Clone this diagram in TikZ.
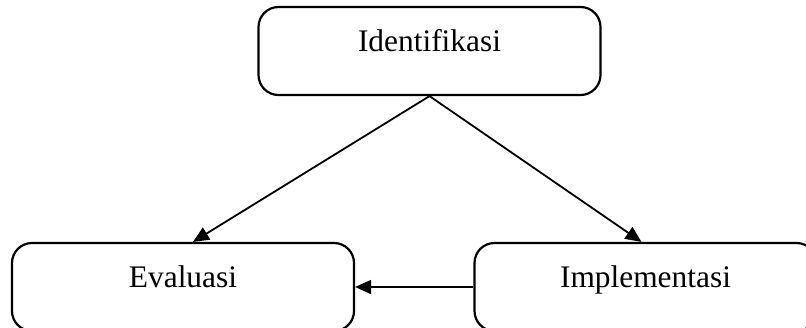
\documentclass[tikz,border=0pt]{standalone}
\usepackage{fontspec}
\setmainfont{Liberation Serif}
\usetikzlibrary{positioning, arrows.meta, calc}

\tikzset{phase/.style={draw, rectangle, rounded corners=10pt, line width=1.1pt,
		minimum width=171pt, minimum height=44pt, text height=1.5ex, text depth=1.5ex,
		font=\fontsize{15.7}{18}\selectfont},
	link/.style={-{Triangle[length=8pt,width=7pt]}, line width=0.9pt}}

\begin{document}
\begin{tikzpicture}[x=0.5pt, y=-0.5pt]
	\useasboundingbox (0,0) rectangle (806,327);
	\clip (0,0) rectangle (806,327);
	
	%Identification block
	\node (identifikasi) at (429.5,51) [phase] {Identifikasi};
	
	%Evaluation block
	\node (evaluasi) at (183,287) [phase] {Evaluasi};
	
	%Implementation block
	\node (implementasi) at (645.5,287) [phase] {Implementasi};
	
	%Links
	\draw[link] (identifikasi.south) -- ($(evaluasi.north)+(10,0)$);
	\draw[link] (identifikasi.south) -- ($(implementasi.north)+(-4,0)$);
	\draw[link] (implementasi) -- (evaluasi);
	
\end{tikzpicture}
\end{document}
